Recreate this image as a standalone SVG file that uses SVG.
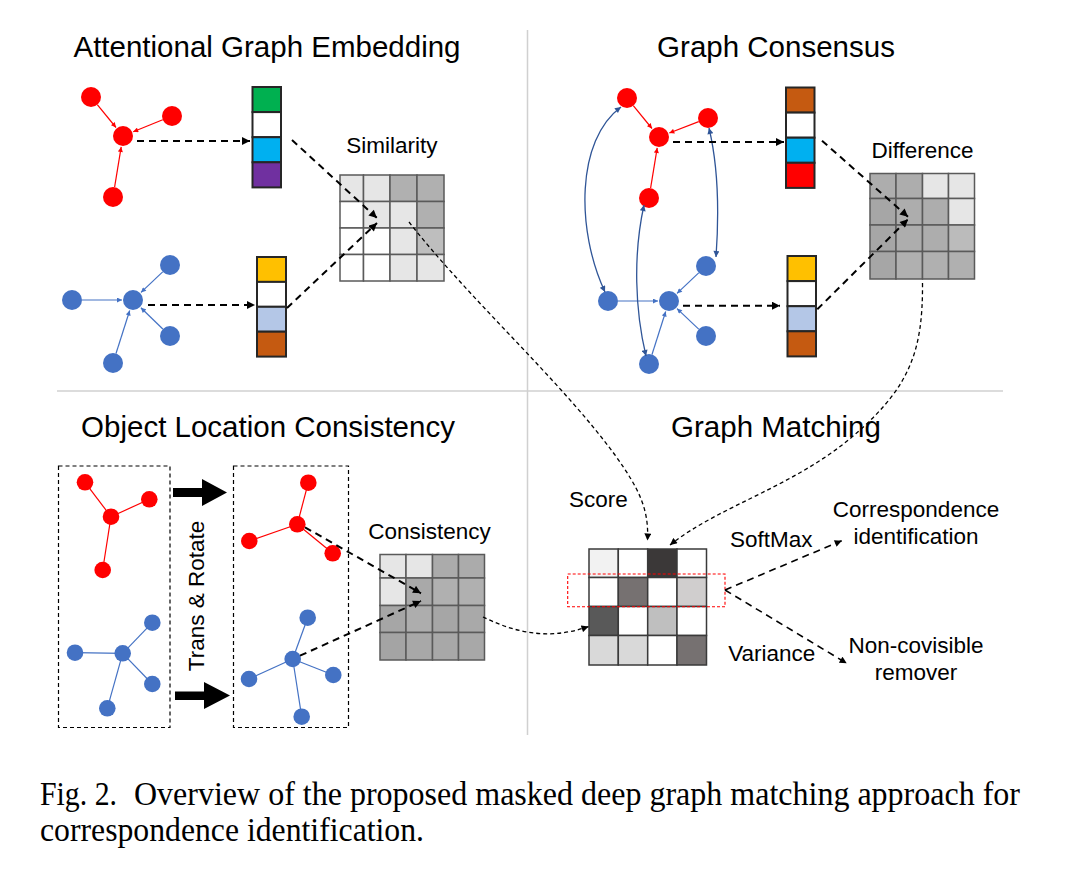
<svg xmlns="http://www.w3.org/2000/svg" width="1080" height="877" viewBox="0 0 1080 877">
<style>
.t{font-family:"Liberation Sans",Arial,sans-serif;font-size:29.5px;text-anchor:middle;fill:#000}
.l{font-family:"Liberation Sans",Arial,sans-serif;font-size:22.5px;text-anchor:middle;fill:#000}
.cap{font-family:"Liberation Serif","Times New Roman",serif;font-size:34px;fill:#000}
.rn{fill:#FF0000}
.bn{fill:#4472C4}
.vec rect{stroke:#262626;stroke-width:2}
.mx rect{stroke:#5a5a5a;stroke-width:1.5}
.sc rect{stroke:#3a3a3a;stroke-width:1.5}
.dA{fill:none;stroke:#000;stroke-width:2;stroke-dasharray:7 5;marker-end:url(#aB)}
.dS{fill:none;stroke:#000;stroke-width:1.3;stroke-dasharray:4 3;marker-end:url(#aS)}
.dM{fill:none;stroke:#000;stroke-width:1.6;stroke-dasharray:7 5;marker-end:url(#aS)}
.er{stroke:#FF0000;stroke-width:1.2;fill:none;marker-end:url(#aR)}
.eb{stroke:#4472C4;stroke-width:1.2;fill:none;marker-end:url(#aBl)}
.arc{stroke:#2F5597;stroke-width:1.3;fill:none;marker-end:url(#aD);marker-start:url(#aD)}
.lr{stroke:#FF0000;stroke-width:1.2}
.lb{stroke:#4472C4;stroke-width:1.2}
.box{fill:none;stroke:#000;stroke-width:1.2;stroke-dasharray:4 3}
.div{stroke:#D0D0D0;stroke-width:1.5}
</style>
<defs>
<marker id="aB" viewBox="0 0 10 10" refX="10" refY="5" markerUnits="userSpaceOnUse" markerWidth="9" markerHeight="8" orient="auto"><path d="M0,0 L10,5 L0,10 z" fill="#000"/></marker>
<marker id="aS" viewBox="0 0 10 10" refX="10" refY="5" markerUnits="userSpaceOnUse" markerWidth="8" markerHeight="7" orient="auto"><path d="M0,0 L10,5 L0,10 z" fill="#000"/></marker>
<marker id="aR" viewBox="0 0 10 10" refX="10" refY="5" markerUnits="userSpaceOnUse" markerWidth="6" markerHeight="5" orient="auto"><path d="M0,0 L10,5 L0,10 z" fill="#FF0000"/></marker>
<marker id="aBl" viewBox="0 0 10 10" refX="10" refY="5" markerUnits="userSpaceOnUse" markerWidth="6" markerHeight="5" orient="auto"><path d="M0,0 L10,5 L0,10 z" fill="#4472C4"/></marker>
<marker id="aD" viewBox="0 0 10 10" refX="10" refY="5" markerUnits="userSpaceOnUse" markerWidth="7" markerHeight="6" orient="auto-start-reverse"><path d="M0,0 L10,5 L0,10 z" fill="#2F5597"/></marker>
</defs>
<rect width="1080" height="877" fill="#fff"/>

<g id="dividers">
<line class="div" x1="527.5" y1="30" x2="527.5" y2="735"/>
<line class="div" x1="57" y1="391" x2="1003" y2="391"/>
</g>

<g id="titles">
<text class="t" x="267" y="57">Attentional Graph Embedding</text>
<text class="t" x="776" y="57">Graph Consensus</text>
<text class="t" x="268" y="437">Object Location Consistency</text>
<text class="t" x="776" y="437">Graph Matching</text>
</g>

<!-- Attentional Graph Embedding -->
<g id="ag-red-graph">
<circle class="rn" cx="91" cy="97" r="10"/>
<circle class="rn" cx="172" cy="116" r="10"/>
<circle class="rn" cx="123" cy="136" r="10"/>
<circle class="rn" cx="113" cy="197" r="10"/>
</g>
<g id="ag-blue-graph">
<circle class="bn" cx="72" cy="300" r="10"/>
<circle class="bn" cx="133" cy="300" r="10"/>
<circle class="bn" cx="170" cy="265" r="10"/>
<circle class="bn" cx="170" cy="336" r="10"/>
<circle class="bn" cx="113" cy="363" r="10"/>
</g>
<g id="ag-vec-red" class="vec">
<rect x="252.5" y="87" width="28.5" height="25.1" fill="#00B050"/>
<rect x="252.5" y="112.1" width="28.5" height="25.1" fill="#FFFFFF"/>
<rect x="252.5" y="137.2" width="28.5" height="25.1" fill="#00B0F0"/>
<rect x="252.5" y="162.3" width="28.5" height="25.1" fill="#7030A0"/>
</g>
<g id="ag-vec-blue" class="vec">
<rect x="257" y="257" width="29" height="24.9" fill="#FFC000"/>
<rect x="257" y="281.9" width="29" height="24.9" fill="#FFFFFF"/>
<rect x="257" y="306.8" width="29" height="24.9" fill="#B4C7E7"/>
<rect x="257" y="331.7" width="29" height="24.9" fill="#C55A11"/>
</g>
<g id="similarity">
<text class="l" x="392" y="152.5">Similarity</text>
<g class="mx">
<rect x="340" y="175" width="23.5" height="26.5" fill="#E6E6E6"/>
<rect x="363.5" y="175" width="26.5" height="26.5" fill="#E6E6E6"/>
<rect x="390" y="175" width="27" height="26.5" fill="#B0B0B0"/>
<rect x="417" y="175" width="27" height="26.5" fill="#B0B0B0"/>
<rect x="340" y="201.5" width="23.5" height="26.5" fill="#FFFFFF"/>
<rect x="363.5" y="201.5" width="26.5" height="26.5" fill="#E6E6E6"/>
<rect x="390" y="201.5" width="27" height="26.5" fill="#E6E6E6"/>
<rect x="417" y="201.5" width="27" height="26.5" fill="#B0B0B0"/>
<rect x="340" y="228" width="23.5" height="26.5" fill="#FFFFFF"/>
<rect x="363.5" y="228" width="26.5" height="26.5" fill="#FFFFFF"/>
<rect x="390" y="228" width="27" height="26.5" fill="#E6E6E6"/>
<rect x="417" y="228" width="27" height="26.5" fill="#BEBEBE"/>
<rect x="340" y="254.5" width="23.5" height="26.5" fill="#FFFFFF"/>
<rect x="363.5" y="254.5" width="26.5" height="26.5" fill="#FFFFFF"/>
<rect x="390" y="254.5" width="27" height="26.5" fill="#E6E6E6"/>
<rect x="417" y="254.5" width="27" height="26.5" fill="#E6E6E6"/>
</g>
</g>

<!-- Graph Consensus -->
<g id="gc-red-graph">
<circle class="rn" cx="627" cy="98" r="10"/>
<circle class="rn" cx="708" cy="118" r="10"/>
<circle class="rn" cx="659" cy="137" r="10"/>
<circle class="rn" cx="649" cy="198" r="10"/>
</g>
<g id="gc-blue-graph">
<circle class="bn" cx="608" cy="301" r="10"/>
<circle class="bn" cx="669" cy="301" r="10"/>
<circle class="bn" cx="706" cy="266" r="10"/>
<circle class="bn" cx="706" cy="336" r="10"/>
<circle class="bn" cx="649" cy="364" r="10"/>
</g>
<g id="gc-vec-red" class="vec">
<rect x="786" y="87.5" width="28.5" height="25.1" fill="#C55A11"/>
<rect x="786" y="112.6" width="28.5" height="25.1" fill="#FFFFFF"/>
<rect x="786" y="137.7" width="28.5" height="25.1" fill="#00B0F0"/>
<rect x="786" y="162.8" width="28.5" height="25.1" fill="#FF0000"/>
</g>
<g id="gc-vec-blue" class="vec">
<rect x="787.5" y="256" width="28.5" height="25.1" fill="#FFC000"/>
<rect x="787.5" y="281.1" width="28.5" height="25.1" fill="#FFFFFF"/>
<rect x="787.5" y="306.2" width="28.5" height="25.1" fill="#B4C7E7"/>
<rect x="787.5" y="331.3" width="28.5" height="25.1" fill="#C55A11"/>
</g>
<g id="difference">
<text class="l" x="922.5" y="157.5">Difference</text>
<g class="mx">
<rect x="870" y="173.5" width="26" height="25" fill="#ADADAD"/>
<rect x="896" y="173.5" width="26.5" height="25" fill="#ADADAD"/>
<rect x="922.5" y="173.5" width="26" height="25" fill="#E6E6E6"/>
<rect x="948.5" y="173.5" width="26" height="25" fill="#E6E6E6"/>
<rect x="870" y="198.5" width="26" height="26.5" fill="#A6A6A6"/>
<rect x="896" y="198.5" width="26.5" height="26.5" fill="#ADADAD"/>
<rect x="922.5" y="198.5" width="26" height="26.5" fill="#ADADAD"/>
<rect x="948.5" y="198.5" width="26" height="26.5" fill="#E6E6E6"/>
<rect x="870" y="225" width="26" height="26.5" fill="#A6A6A6"/>
<rect x="896" y="225" width="26.5" height="26.5" fill="#ADADAD"/>
<rect x="922.5" y="225" width="26" height="26.5" fill="#ADADAD"/>
<rect x="948.5" y="225" width="26" height="26.5" fill="#BBBBBB"/>
<rect x="870" y="251.5" width="26" height="27.5" fill="#A6A6A6"/>
<rect x="896" y="251.5" width="26.5" height="27.5" fill="#B0B0B0"/>
<rect x="922.5" y="251.5" width="26" height="27.5" fill="#B0B0B0"/>
<rect x="948.5" y="251.5" width="26" height="27.5" fill="#B0B0B0"/>
</g>
</g>

<!-- Object Location Consistency -->
<g id="olc-box-left">
<rect class="box" x="58.5" y="466" width="111.5" height="261.5"/>
</g>
<g id="olc-box-right">
<rect class="box" x="233.5" y="466" width="115" height="261.5"/>
</g>
<g id="olc-left-red">
<line class="lr" x1="85" y1="482.3" x2="111" y2="516.7"/>
<line class="lr" x1="149.3" y1="499.3" x2="111" y2="516.7"/>
<line class="lr" x1="102.7" y1="570" x2="111" y2="516.7"/>
<circle class="rn" cx="85" cy="482.3" r="8.3"/>
<circle class="rn" cx="149.3" cy="499.3" r="8.3"/>
<circle class="rn" cx="111" cy="516.7" r="8.3"/>
<circle class="rn" cx="102.7" cy="570" r="8.3"/>
</g>
<g id="olc-left-blue">
<line class="lb" x1="152.3" y1="622.7" x2="122.7" y2="653.3"/>
<line class="lb" x1="75" y1="652.7" x2="122.7" y2="653.3"/>
<line class="lb" x1="152.3" y1="684" x2="122.7" y2="653.3"/>
<line class="lb" x1="107.3" y1="708.3" x2="122.7" y2="653.3"/>
<circle class="bn" cx="152.3" cy="622.7" r="8.3"/>
<circle class="bn" cx="75" cy="652.7" r="8.3"/>
<circle class="bn" cx="122.7" cy="653.3" r="8.3"/>
<circle class="bn" cx="152.3" cy="684" r="8.3"/>
<circle class="bn" cx="107.3" cy="708.3" r="8.3"/>
</g>
<g id="olc-right-red">
<line class="lr" x1="308.3" y1="482.7" x2="297.3" y2="524.3"/>
<line class="lr" x1="249.3" y1="541" x2="297.3" y2="524.3"/>
<line class="lr" x1="332.7" y1="553.3" x2="297.3" y2="524.3"/>
<circle class="rn" cx="308.3" cy="482.7" r="8.3"/>
<circle class="rn" cx="297.3" cy="524.3" r="8.3"/>
<circle class="rn" cx="249.3" cy="541" r="8.3"/>
<circle class="rn" cx="332.7" cy="553.3" r="8.3"/>
</g>
<g id="olc-right-blue">
<line class="lb" x1="307.7" y1="617.7" x2="292.7" y2="659"/>
<line class="lb" x1="249" y1="679" x2="292.7" y2="659"/>
<line class="lb" x1="333.3" y1="675" x2="292.7" y2="659"/>
<line class="lb" x1="301.7" y1="716.7" x2="292.7" y2="659"/>
<circle class="bn" cx="307.7" cy="617.7" r="8.3"/>
<circle class="bn" cx="249" cy="679" r="8.3"/>
<circle class="bn" cx="292.7" cy="659" r="8.3"/>
<circle class="bn" cx="333.3" cy="675" r="8.3"/>
<circle class="bn" cx="301.7" cy="716.7" r="8.3"/>
</g>
<g id="trans-rotate">
<polygon points="173,488 202,488 202,479 227,492.5 202,506 202,497 173,497" fill="#000"/>
<polygon points="175,691.5 204,691.5 204,682 230,695.5 204,709 204,700 175,700" fill="#000"/>
<text class="l" transform="translate(204,596) rotate(-90)">Trans &amp; Rotate</text>
</g>
<g id="consistency">
<text class="l" x="429.5" y="539">Consistency</text>
<g class="mx">
<rect x="380" y="554.5" width="26" height="23.5" fill="#E6E6E6"/>
<rect x="406" y="554.5" width="26.5" height="23.5" fill="#E6E6E6"/>
<rect x="432.5" y="554.5" width="26" height="23.5" fill="#ABABAB"/>
<rect x="458.5" y="554.5" width="26" height="23.5" fill="#ABABAB"/>
<rect x="380" y="578" width="26" height="27.5" fill="#E6E6E6"/>
<rect x="406" y="578" width="26.5" height="27.5" fill="#A9A9A9"/>
<rect x="432.5" y="578" width="26" height="27.5" fill="#B0B0B0"/>
<rect x="458.5" y="578" width="26" height="27.5" fill="#B0B0B0"/>
<rect x="380" y="605.5" width="26" height="27" fill="#A6A6A6"/>
<rect x="406" y="605.5" width="26.5" height="27" fill="#ADADAD"/>
<rect x="432.5" y="605.5" width="26" height="27" fill="#A6A6A6"/>
<rect x="458.5" y="605.5" width="26" height="27" fill="#A9A9A9"/>
<rect x="380" y="632.5" width="26" height="27.5" fill="#A4A4A4"/>
<rect x="406" y="632.5" width="26.5" height="27.5" fill="#A8A8A8"/>
<rect x="432.5" y="632.5" width="26" height="27.5" fill="#A8A8A8"/>
<rect x="458.5" y="632.5" width="26" height="27.5" fill="#A8A8A8"/>
</g>
</g>

<!-- Graph Matching -->
<g id="score">
<text class="l" x="598.3" y="506.5">Score</text>
<g class="sc">
<rect x="589" y="549" width="29.3" height="28.5" fill="#F2F2F2"/>
<rect x="618.3" y="549" width="29.4" height="28.5" fill="#FFFFFF"/>
<rect x="647.7" y="549" width="29.3" height="28.5" fill="#3B3838"/>
<rect x="677" y="549" width="29.5" height="28.5" fill="#FFFFFF"/>
<rect x="589" y="577.5" width="29.3" height="29" fill="#FFFFFF"/>
<rect x="618.3" y="577.5" width="29.4" height="29" fill="#767171"/>
<rect x="647.7" y="577.5" width="29.3" height="29" fill="#FFFFFF"/>
<rect x="677" y="577.5" width="29.5" height="29" fill="#D0CECE"/>
<rect x="589" y="606.5" width="29.3" height="29" fill="#595959"/>
<rect x="618.3" y="606.5" width="29.4" height="29" fill="#FFFFFF"/>
<rect x="647.7" y="606.5" width="29.3" height="29" fill="#BFBFBF"/>
<rect x="677" y="606.5" width="29.5" height="29" fill="#FFFFFF"/>
<rect x="589" y="635.5" width="29.3" height="29.5" fill="#D9D9D9"/>
<rect x="618.3" y="635.5" width="29.4" height="29.5" fill="#D9D9D9"/>
<rect x="647.7" y="635.5" width="29.3" height="29.5" fill="#FFFFFF"/>
<rect x="677" y="635.5" width="29.5" height="29.5" fill="#767171"/>
</g>
<rect x="567.7" y="574" width="157.3" height="32.7" fill="none" stroke="#FF0000" stroke-width="1.1" stroke-dasharray="3 2"/>
</g>
<g id="softmax-label"><text class="l" x="771.3" y="546.5">SoftMax</text></g>
<g id="variance-label"><text class="l" x="771.7" y="660.5">Variance</text></g>
<g id="correspondence">
<text class="l" x="916" y="517.3">Correspondence</text>
<text class="l" x="916" y="544">identification</text>
</g>
<g id="noncovisible">
<text class="l" x="916" y="653.3">Non-covisible</text>
<text class="l" x="916" y="680">remover</text>
</g>

<g id="connectors">
<!-- AGE graph edges -->
<line class="er" x1="97.3" y1="104.7" x2="116" y2="127.5"/>
<line class="er" x1="162.7" y1="119.8" x2="133.2" y2="131.8"/>
<line class="er" x1="114.6" y1="187.1" x2="121.2" y2="146.9"/>
<line class="eb" x1="82" y1="300" x2="122" y2="300"/>
<line class="eb" x1="162.7" y1="271.9" x2="141" y2="292.4"/>
<line class="eb" x1="162.8" y1="329" x2="140.9" y2="307.7"/>
<line class="eb" x1="116" y1="353.5" x2="129.7" y2="310.5"/>
<!-- AGE dashed -->
<line class="dA" x1="137" y1="141" x2="250" y2="141"/>
<line class="dA" x1="148" y1="305" x2="255" y2="305"/>
<line class="dA" x1="292" y1="140" x2="377" y2="218"/>
<line class="dA" x1="287" y1="308" x2="377" y2="223"/>
<!-- GC graph edges -->
<line class="er" x1="633.3" y1="105.7" x2="652" y2="128.5"/>
<line class="er" x1="698.7" y1="121.6" x2="669.3" y2="133"/>
<line class="er" x1="650.6" y1="188.1" x2="657.2" y2="147.9"/>
<line class="eb" x1="618" y1="301" x2="658" y2="301"/>
<line class="eb" x1="698.7" y1="272.9" x2="677" y2="293.4"/>
<line class="eb" x1="698.7" y1="329.1" x2="677" y2="308.6"/>
<line class="eb" x1="652" y1="354.5" x2="665.7" y2="311.5"/>
<path class="arc" d="M621,107 C576,140 576,230 605,292"/>
<path class="arc" d="M644,205 C633,255 635,310 646,356"/>
<path class="arc" d="M709,128 C719,170 719,215 716,257"/>
<!-- GC dashed -->
<line class="dA" x1="673" y1="142" x2="784" y2="142"/>
<line class="dA" x1="683" y1="305.7" x2="780" y2="305.7"/>
<line class="dA" x1="822" y1="140.7" x2="908" y2="216.7"/>
<line class="dA" x1="817.3" y1="309.3" x2="908" y2="219.3"/>
<!-- OLC dashed -->
<line class="dA" x1="305" y1="527.3" x2="421" y2="593.3"/>
<line class="dA" x1="300" y1="655.7" x2="421" y2="601"/>
<!-- to score matrix -->
<path class="dS" d="M409,222 C470,300 560,380 615,455 C640,490 649,510 647.5,540.5"/>
<path class="dS" d="M922.5,283 C923,350 910,385 860,430 C800,485 720,505 670,545"/>
<path class="dS" d="M483,617 C510,630 545,642 588.5,626.5"/>
<!-- outputs -->
<line class="dM" x1="725" y1="590" x2="841.7" y2="540.7"/>
<line class="dM" x1="725" y1="590" x2="846.7" y2="663.3"/>
</g>

<g id="caption">
<text class="cap" x="40" y="805" textLength="77" lengthAdjust="spacingAndGlyphs">Fig. 2.</text>
<text class="cap" x="134" y="805" textLength="886" lengthAdjust="spacingAndGlyphs">Overview of the proposed masked deep graph matching approach for</text>
<text class="cap" x="40" y="841" textLength="384" lengthAdjust="spacingAndGlyphs">correspondence identification.</text>
</g>
</svg>
